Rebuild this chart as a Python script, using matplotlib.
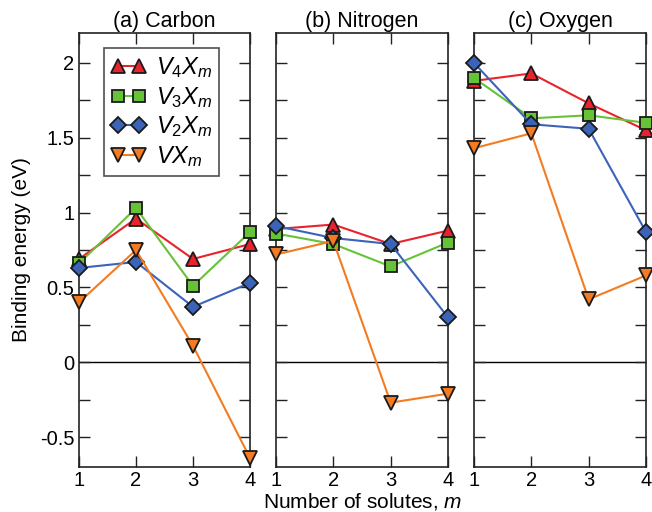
import matplotlib
matplotlib.use("Agg")
import matplotlib.pyplot as plt
from matplotlib.ticker import MultipleLocator

plt.rcParams['font.family'] = ['Liberation Sans', 'DejaVu Sans']
plt.rcParams['mathtext.fontset'] = 'custom'
plt.rcParams['mathtext.rm'] = 'Liberation Sans'
plt.rcParams['mathtext.it'] = 'Liberation Sans:italic'

m = [1, 2, 3, 4]
panels = ["(a) Carbon", "(b) Nitrogen", "(c) Oxygen"]
series_labels = [r"$V_4X_m$", r"$V_3X_m$", r"$V_2X_m$", r"$VX_m$"]

# Binding energies (eV) per element, ordered V4, V3, V2, V
carbon = [
    [0.69, 0.96, 0.69, 0.79],
    [0.66, 1.03, 0.51, 0.87],
    [0.63, 0.67, 0.37, 0.53],
    [0.40, 0.75, 0.11, -0.64],
]
nitrogen = [
    [0.89, 0.92, 0.79, 0.88],
    [0.86, 0.79, 0.64, 0.80],
    [0.91, 0.83, 0.79, 0.30],
    [0.72, 0.81, -0.27, -0.21],
]
oxygen = [
    [1.88, 1.93, 1.73, 1.55],
    [1.90, 1.63, 1.65, 1.60],
    [2.00, 1.59, 1.56, 0.87],
    [1.43, 1.53, 0.42, 0.58],
]
data = [carbon, nitrogen, oxygen]

colors = ["#e8232b", "#66c236", "#3b63b8", "#f47b20"]
markers = ["^", "s", "D", "v"]
msizes = [10, 9, 8, 10]

fig = plt.figure(figsize=(6.52, 5.12), dpi=100)
lefts = [79, 276, 474]
widths = [171, 172, 172]
bottom = 1 - 467 / 512
height = (467 - 33) / 512

axes = []
for i in range(3):
    ax = fig.add_axes([lefts[i] / 652, bottom, widths[i] / 652, height])
    axes.append(ax)
    ax.axhline(0, color="black", lw=1.0, zorder=1)
    for s in range(4):
        ax.plot(m, data[i][s], color=colors[s], lw=1.5, marker=markers[s],
                ms=msizes[s], mfc=colors[s], mec="#1a1a1a", mew=1.3,
                label=series_labels[s], clip_on=False, zorder=3 + s * 0.1)
    ax.set_xlim(1, 4)
    ax.set_ylim(-0.7, 2.2)
    ax.set_xticks(m)
    ax.yaxis.set_major_locator(MultipleLocator(0.5))
    ax.yaxis.set_minor_locator(MultipleLocator(0.25))
    ax.tick_params(which="both", direction="in", top=True, right=True,
                   labelsize=14.5, color="#222222")
    ax.tick_params(which="both", length=8, width=1.0)
    ax.tick_params(axis="x", pad=3)
    for sp in ax.spines.values():
        sp.set_color("#222222")
        sp.set_linewidth(1.2)
    ax.set_title(panels[i], fontsize=15.5, pad=4)
    if i > 0:
        ax.tick_params(labelleft=False)

axes[0].set_yticks([-0.5, 0, 0.5, 1, 1.5, 2])
axes[0].set_yticklabels(["-0.5", "0", "0.5", "1", "1.5", "2"])
axes[0].set_ylabel("Binding energy (eV)", fontsize=15, labelpad=6)
fig.text(0.5 * (79 + 646) / 652, 1 - 508 / 512, "Number of solutes, $m$",
         ha="center", va="baseline", fontsize=15)

leg = axes[0].legend(loc="upper left", bbox_to_anchor=(0.146, 0.965),
                     numpoints=2, handlelength=1.5, fontsize=17,
                     frameon=True, fancybox=False, edgecolor="#222222",
                     borderpad=0.3, labelspacing=0.2, handletextpad=0.4,
                     borderaxespad=0.0)
leg.get_frame().set_linewidth(1.2)

fig.savefig("out.png", dpi=100)
